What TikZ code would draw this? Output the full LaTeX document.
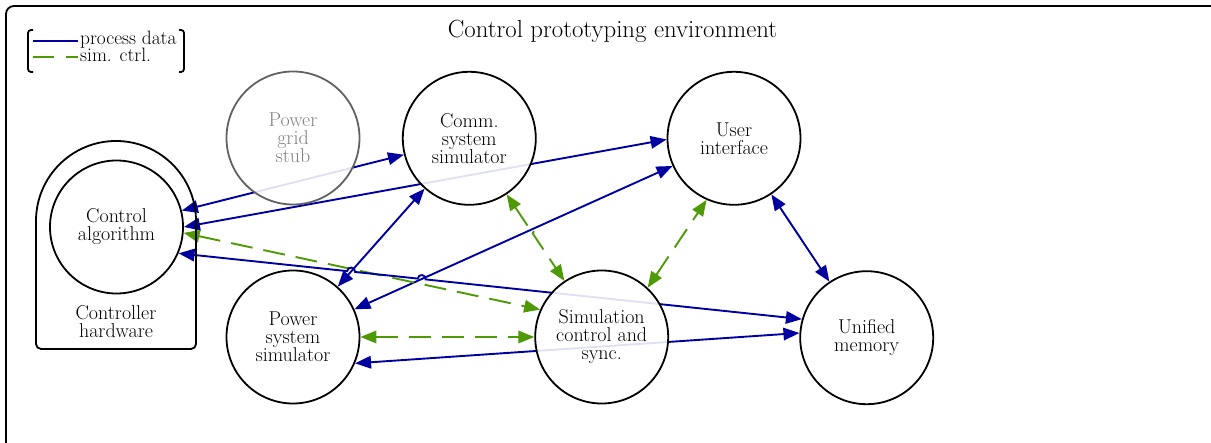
\documentclass[tikz,border=0pt]{standalone}
\usetikzlibrary{arrows.meta,calc,intersections}
\definecolor{procblue}{RGB}{0,0,160}
\definecolor{ctrlgreen}{RGB}{78,154,6}
\pgfdeclarelayer{edges}
\pgfsetlayers{edges,main}
\newcommand\unitfont{\fontsize{20}{18}\selectfont}
\newcommand\legendfont{\fontsize{19.4}{17}\selectfont}
\newcommand\titlefont{\fontsize{24.8}{28}\selectfont}
\tikzset{
  >={Triangle[length=16pt,width=12.5pt]},
  unit/.style={circle, draw=black, line width=1.8pt, minimum size=133pt,
    inner sep=0pt, fill=white, fill opacity=0.88, text opacity=1,
    align=center, font=\unitfont},
  stub/.style={unit, draw=black!62, text=black!50},
  proc/.style={draw=procblue, line width=1.9pt, <->},
  simctrl/.style={draw=ctrlgreen, line width=1.9pt,
    dash pattern=on 22pt off 11pt, <->},
  frame/.style={draw=black, line width=1.8pt},
}
\begin{document}
\begin{tikzpicture}[x=1pt,y=1pt]
\useasboundingbox (0,0) rectangle (1211,-443);
\clip (0,0) rectangle (1211,-443);

% environment frame and title
\draw[frame, rounded corners=8pt] (6,-6) rectangle (1240,-470);
\node[font=\titlefont, anchor=base, inner sep=0pt] (title) at (612.5,-38)
  {Control prototyping environment};

% legend
\draw[frame, rounded corners=3pt] (33,-30) -- (28,-30) -- (28,-72) -- (33,-72);
\draw[frame, rounded corners=3pt] (179,-30) -- (184,-30) -- (184,-72) -- (179,-72);
\coordinate (pdA) at (33,-41);
\coordinate (pdB) at (78,-41);
\coordinate (scA) at (33,-57);
\coordinate (scB) at (78,-57);
\draw[procblue, line width=1.8pt] (pdA) -- (pdB);
\draw[ctrlgreen, line width=1.8pt, dash pattern=on 21pt off 12pt] (scA) -- (scB);
\node[anchor=base west, inner sep=0pt, font=\legendfont] (pdlab) at (80,-45) {process data};
\node[anchor=base west, inner sep=0pt, font=\legendfont] (sclab) at (80,-62) {sim. ctrl.};

% controller hardware enclosure
\draw[frame] (36,-221) arc[start angle=180, end angle=0, radius=80]
  -- (196,-344) arc[start angle=0, end angle=-90, radius=5]
  -- (41,-349) arc[start angle=270, end angle=180, radius=5] -- cycle;
\node[align=center, font=\unitfont, inner sep=0pt] (hw) at (116,-322)
  {Controller\\hardware};

% components
\node[stub] (grid) at (293,-138) {Power\\grid\\stub};
\node[unit] (comm) at (469.3,-138.3) {Comm.\\system\\simulator};
\node[unit] (ui)   at (734,-138.3) {User\\interface};
\node[unit] (ctrl) at (116.5,-227) {Control\\algorithm};
\node[unit] (pss)  at (293,-337) {Power\\system\\simulator};
\node[unit] (sim)  at (601.7,-337) {Simulation\\control and\\sync.};
\node[unit] (mem)  at (866.7,-337.7) {Unified\\memory};

% connections, kept behind the components
\begin{pgfonlayer}{edges}
\draw[proc] (ctrl) -- (comm);
\draw[proc] (ctrl.0) -- (ui.181);
\draw[proc, name path=pc] (pss) -- (comm);
\draw[proc, name path=pu] (pss) -- (ui);
\draw[proc] (ui) -- (mem);
\draw[proc] (pss.-23.2) -- (mem.176.7);
\draw[simctrl] (ctrl.-5.5) -- (sim.156);
\draw[simctrl] (pss.east) -- (sim.west);
\draw[simctrl] (sim.47.6) -- (ui.246);

% lines that hop over the ones they cross
\path[name path=cm] (ctrl.-23.7) -- (mem.164.4);
\path[name intersections={of=cm and pc, by=hopA}];
\path[name intersections={of=cm and pu, by=hopB}];
\draw[proc] let \p1=($(mem.164.4)-(ctrl.-23.7)$), \n1={atan2(\y1,\x1)} in
  (ctrl.-23.7) -- ($(hopA)!4pt!(ctrl.-23.7)$)
  arc[start angle=\n1+180, end angle=\n1, radius=4pt]
  -- ($(hopB)!4pt!(ctrl.-23.7)$)
  arc[start angle=\n1+180, end angle=\n1, radius=4pt]
  -- (mem.164.4);

\path[name path=cs] (comm) -- (sim);
\path[name intersections={of=cs and pu, by=hopC}];
\draw[simctrl] let \p1=($(sim)-(comm)$), \n1={atan2(\y1,\x1)} in
  (comm) -- ($(hopC)!4pt!(comm)$)
  arc[start angle=\n1+180, end angle=\n1, radius=4pt]
  -- (sim);
\end{pgfonlayer}
\end{tikzpicture}
\end{document}
